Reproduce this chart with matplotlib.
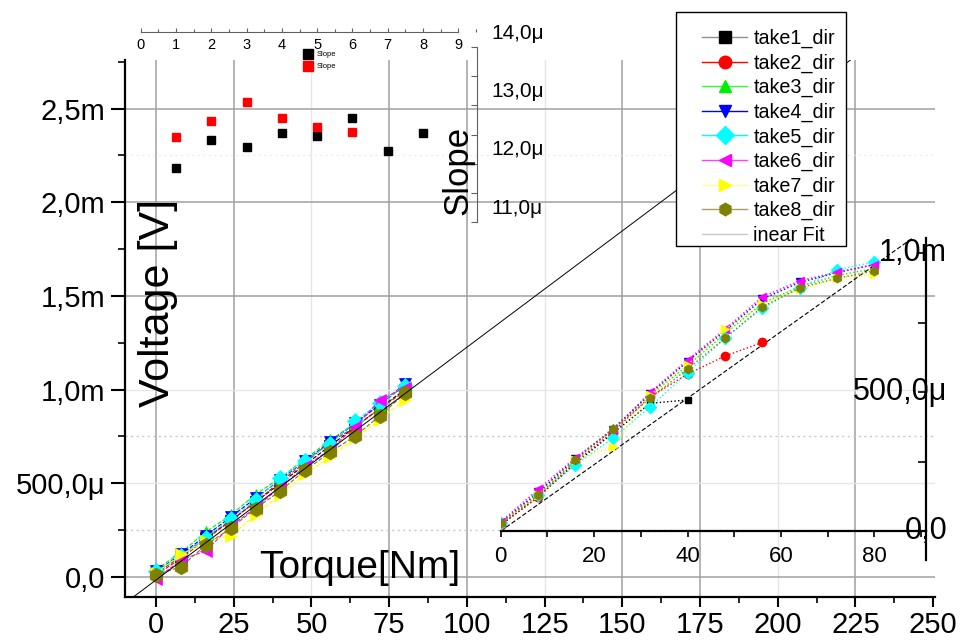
import matplotlib
matplotlib.use('Agg')
import matplotlib.pyplot as plt
from matplotlib.lines import Line2D
from matplotlib.patches import Rectangle
from matplotlib.ticker import MultipleLocator
from matplotlib.transforms import blended_transform_factory, ScaledTranslation

plt.rcParams['font.family'] = ['Liberation Sans', 'DejaVu Sans']

# ---------------- data ----------------
torque = [0, 8, 16, 24, 32, 40, 48, 56, 64, 72, 80]
series_names = ['take1_dir', 'take2_dir', 'take3_dir', 'take4_dir',
                'take5_dir', 'take6_dir', 'take7_dir', 'take8_dir']

# main plot, voltage in mV
main_take1 = [0.02, 0.11, 0.21, 0.30, 0.40, 0.50, 0.60, 0.70, 0.80, 0.90, 1.00]
main_take2 = [0.01, 0.10, 0.20, 0.30, 0.40, 0.51, 0.61, 0.72, 0.80, 0.90, 0.99]
main_take3 = [0.04, 0.13, 0.24, 0.33, 0.44, 0.53, 0.63, 0.73, 0.82, 0.92, 1.02]
main_take4 = [0.03, 0.12, 0.22, 0.32, 0.42, 0.52, 0.62, 0.72, 0.82, 0.92, 1.03]
main_take5 = [0.03, 0.11, 0.21, 0.31, 0.41, 0.53, 0.62, 0.71, 0.83, 0.93, 1.02]
main_take6 = [-0.01, 0.09, 0.14, 0.27, 0.37, 0.48, 0.59, 0.68, 0.80, 0.945, 1.01]
main_take7 = [0.02, 0.12, 0.19, 0.22, 0.33, 0.44, 0.55, 0.64, 0.74, 0.84, 0.945]
main_take8 = [0.01, 0.055, 0.17, 0.26, 0.365, 0.46, 0.57, 0.665, 0.752, 0.859, 0.98]
main_fit_slope = 0.01242      # mV / Nm
main_fit_intercept = -0.016   # mV

# lower-right inset, voltage in mV
ins_take1 = [0.022, 0.123, 0.244, 0.352, 0.460, 0.472]
ins_take2 = [0.022, 0.123, 0.249, 0.357, 0.483, 0.565, 0.630, 0.679]
ins_take3 = [0.030, 0.135, 0.260, 0.370, 0.490, 0.595, 0.710, 0.820, 0.880, 0.920, 0.945]
ins_take4 = [0.030, 0.140, 0.260, 0.365, 0.495, 0.610, 0.720, 0.835, 0.895, 0.930, 0.960]
ins_take5 = [0.028, 0.130, 0.238, 0.334, 0.447, 0.570, 0.694, 0.802, 0.876, 0.940, 0.969]
ins_take6 = [0.033, 0.150, 0.264, 0.364, 0.499, 0.616, 0.726, 0.843, 0.901, 0.932, 0.958]
ins_take7 = [0.028, 0.130, 0.256, 0.303, 0.490, 0.598, 0.726, 0.817, 0.870, 0.910, 0.925]
ins_take8 = [0.029, 0.129, 0.255, 0.367, 0.479, 0.583, 0.694, 0.807, 0.875, 0.910, 0.936]
ins_fit_slope = 0.01196

# upper inset: slopes in micro-V/Nm
slope_idx_black = [1, 2, 3, 4, 5, 6, 7, 8]
slope_black = [11.93, 12.41, 12.29, 12.53, 12.48, 12.78, 12.22, 12.53]
slope_idx_red = [1, 2, 3, 4, 5, 6]
slope_red = [12.46, 12.73, 13.06, 12.78, 12.63, 12.54]

# ticks
main_xticks = [0, 25, 50, 75, 100, 125, 150, 175, 200, 225, 250]
main_xticklabels = ['0', '25', '50', '75', '100', '125', '150', '175', '200', '225', '250']
main_yticks = [0.0, 0.5, 1.0, 1.5, 2.0, 2.5]
main_yticklabels = ['0,0', '500,0\u03bc', '1,0m', '1,5m', '2,0m', '2,5m']
ins_xticks = [0, 20, 40, 60, 80]
ins_xticklabels = ['0', '20', '40', '60', '80']
ins_yticks = [0.0, 0.5, 1.0]
ins_yticklabels = ['0,0', '500,0\u03bc', '1,0m']
slope_xticks = [0, 1, 2, 3, 4, 5, 6, 7, 8, 9]
slope_xticklabels = ['0', '1', '2', '3', '4', '5', '6', '7', '8', '9']
slope_yticks = [11, 12, 13, 14]
slope_yticklabels = ['11,0\u03bc', '12,0\u03bc', '13,0\u03bc', '14,0\u03bc']

# ---------------- style ----------------
colors = ['#000000', '#ff0000', '#00ee00', '#0000ff', '#00ffff', '#ff00ff', '#ffff00', '#808000']
leg_line_colors = ['#909090', '#ff0000', '#30ff30', '#0000ff', '#00ffff', '#ff40ff', '#ffff90', '#a8a060']
markers = ['s', 'o', '^', 'v', 'D', '<', '>', 'h']
main_sizes = [8, 8, 9, 9, 8.5, 9, 9, 10.5]

W, H = 961, 640
fig = plt.figure(figsize=(W / 100, H / 100), dpi=100)


def fx(p):
    return p / W


def fy(p):
    return 1 - p / H


# ---------------- main axes ----------------
ax = fig.add_axes([fx(125), fy(597), (935 - 125) / W, (597 - 60) / H])
ax.set_facecolor('white')
ax.set_xlim(-10, 250.6)
ax.set_ylim(-0.107, 2.759)

dark = '#a0a0a0'
light = '#e6e6e6'
for v in [0, 25, 75, 100, 150, 175, 225]:
    ax.axvline(v, color=dark, lw=1.1, zorder=0)
for v in [50, 125, 200]:
    ax.axvline(v, color=light, lw=1.0, zorder=0)
for v in [0.0, 1.5, 2.0, 2.5]:
    ax.axhline(v, color=dark, lw=1.1, zorder=0)
for v in [0.5, 1.0]:
    ax.axhline(v, color=light, lw=1.0, zorder=0)
for v in [0.25, 0.75]:
    ax.axhline(v, color='#c8c8c8', lw=1.0, ls=(0, (1.5, 2.5)), zorder=0)
ax.axhline(2.25, color='#ececec', lw=1.0, ls=(0, (1.5, 2.5)), zorder=0)

main_series = [main_take1, main_take2, main_take3, main_take4,
               main_take5, main_take6, main_take7, main_take8]
for ys, c, m, s in zip(main_series, colors, markers, main_sizes):
    ax.plot(torque[:len(ys)], ys, ls='--', lw=0.8, color=c, marker=m, ms=s,
            mfc=c, mec=c, mew=0.5, zorder=3)
ax.axline((0, main_fit_intercept), slope=main_fit_slope, color='black', lw=0.7, zorder=4)

for sp in ['top', 'right']:
    ax.spines[sp].set_visible(False)
for sp in ['left', 'bottom']:
    ax.spines[sp].set_linewidth(1.6)
ax.set_xticks(main_xticks, main_xticklabels)
ax.set_yticks(main_yticks, main_yticklabels)
ax.xaxis.set_minor_locator(MultipleLocator(12.5))
ax.yaxis.set_minor_locator(MultipleLocator(0.25))
ax.tick_params(axis='x', which='major', direction='out', length=7, width=1.5, labelsize=21, pad=3)
ax.tick_params(axis='x', which='minor', direction='out', length=4, width=1.2)
ax.tick_params(axis='y', which='major', direction='out', length=10, width=1.5, labelsize=21, pad=4)
ax.tick_params(axis='y', which='minor', direction='out', length=5, width=1.2)

fig.text(fx(158), fy(303), 'Voltage [V]', rotation=90, ha='center', va='center', fontsize=31)
fig.text(fx(360), fy(568), 'Torque[Nm]', ha='center', va='center', fontsize=28)

# ---------------- slope inset (top) ----------------
ax2 = fig.add_axes([fx(140.7), fy(222), (476.7 - 140.7) / W, (222 - 32) / H])
ax2.set_facecolor('none')
ax2.set_xlim(0, 9.52)
ax2.set_ylim(11, 14.26)
ax2.spines['top'].set_visible(False)
ax2.spines['left'].set_visible(False)
ax2.spines['bottom'].set_position(('axes', 1.0))
ax2.spines['bottom'].set_bounds(0, 9)
ax2.spines['right'].set_bounds(11, 14)
for sp in ['bottom', 'right']:
    ax2.spines[sp].set_linewidth(0.8)
    ax2.spines[sp].set_color('#606060')
ax2.set_xticks(slope_xticks, slope_xticklabels)
ax2.xaxis.set_minor_locator(MultipleLocator(0.5))
ax2.tick_params(axis='x', which='both', direction='in', length=3, width=0.8, color='#606060',
                labelsize=10.5, pad=4)
ax2.tick_params(axis='x', which='minor', length=2)
ax2.yaxis.tick_right()
ax2.set_yticks(slope_yticks)
ax2.set_yticklabels([])
ax2.yaxis.set_minor_locator(MultipleLocator(0.5))
ax2.tick_params(axis='y', which='both', direction='in', length=4, width=0.8, color='#606060')
lab_tr = blended_transform_factory(ax2.transAxes, ax2.transData) + \
    ScaledTranslation(15 / 100, 14 / 100, fig.dpi_scale_trans)
for v, l in zip(slope_yticks, slope_yticklabels):
    ax2.text(1.0, v, l, transform=lab_tr, ha='left', va='center', fontsize=15, clip_on=False)
ax2.plot(slope_idx_black, slope_black, ls='none', marker='s', ms=5.5, color='black', label='Slope')
ax2.plot(slope_idx_red, slope_red, ls='none', marker='s', ms=5.5, color='red', label='Slope')
ax2.legend(loc='upper left', bbox_to_anchor=(fx(305), fy(51)), bbox_transform=fig.transFigure,
           frameon=False, fontsize=5.5, handlelength=0.7, handletextpad=0.8, labelspacing=0.6,
           borderpad=0, borderaxespad=0, markerscale=1.3)
fig.text(fx(457.5), fy(170), 'Slope', rotation=90, ha='center', va='center', fontsize=25)

# ---------------- lower-right inset ----------------
ax3 = fig.add_axes([fx(500.7), fy(560), (926 - 500.7) / W, (560 - 238) / H])
ax3.set_facecolor('none')
ax3.set_xlim(0, 91.07)
ax3.set_ylim(-0.104, 1.055)
ax3.spines['top'].set_visible(False)
ax3.spines['left'].set_visible(False)
ax3.spines['bottom'].set_position(('data', 0))
for sp in ['bottom', 'right']:
    ax3.spines[sp].set_linewidth(1.6)
ins_series = [ins_take1, ins_take2, ins_take3, ins_take4,
              ins_take5, ins_take6, ins_take7, ins_take8]
for ys, c, m in zip(ins_series, colors, markers):
    ax3.plot(torque[:len(ys)], ys, ls=':', lw=1.0, color=c, marker=m, ms=6 if m != 's' else 4.5,
             mfc=c, mec=c, zorder=3)
ax3.axline((0, 0), slope=ins_fit_slope, color='black', lw=0.8, ls=(0, (4, 2)), zorder=2)
ax3.set_xticks(ins_xticks, ins_xticklabels)
ax3.xaxis.set_minor_locator(MultipleLocator(10))
ax3.tick_params(axis='x', which='both', direction='out', length=4, width=1.2, labelsize=16, pad=7)
ax3.yaxis.tick_right()
ax3.set_yticks(ins_yticks)
ax3.set_yticklabels([])
ax3.yaxis.set_minor_locator(MultipleLocator(0.25))
ax3.tick_params(axis='y', which='both', direction='in', length=6, width=1.2)
lab_tr3 = blended_transform_factory(ax3.transAxes, ax3.transData) + \
    ScaledTranslation(21 / 100, 0, fig.dpi_scale_trans)
for v, l in zip(ins_yticks, ins_yticklabels):
    ax3.text(1.0, v, l, transform=lab_tr3, ha='right', va='center', fontsize=22, clip_on=False)

# ---------------- legend ----------------
fig.add_artist(Rectangle((fx(676), fy(246)), (846 - 676) / W, (246 - 12) / H,
                         transform=fig.transFigure, facecolor='white', edgecolor='black',
                         lw=1.0, zorder=4))
handles = []
for c, lc, m in zip(colors, leg_line_colors, markers):
    handles.append(Line2D([0], [0], color=lc, lw=1.0, marker=m, ms=9, mfc=c, mec=c))
handles.append(Line2D([0], [0], color='#c8c8c8', lw=1.0))
labels = series_names + ['inear Fit']
fig.legend(handles, labels, loc='upper left', bbox_to_anchor=(fx(702), fy(29)),
           bbox_transform=fig.transFigure, frameon=False, fontsize=14.2,
           handlelength=2.3, handletextpad=0.3, labelspacing=0.27,
           borderpad=0, borderaxespad=0)

fig.savefig('out.png', dpi=100)
